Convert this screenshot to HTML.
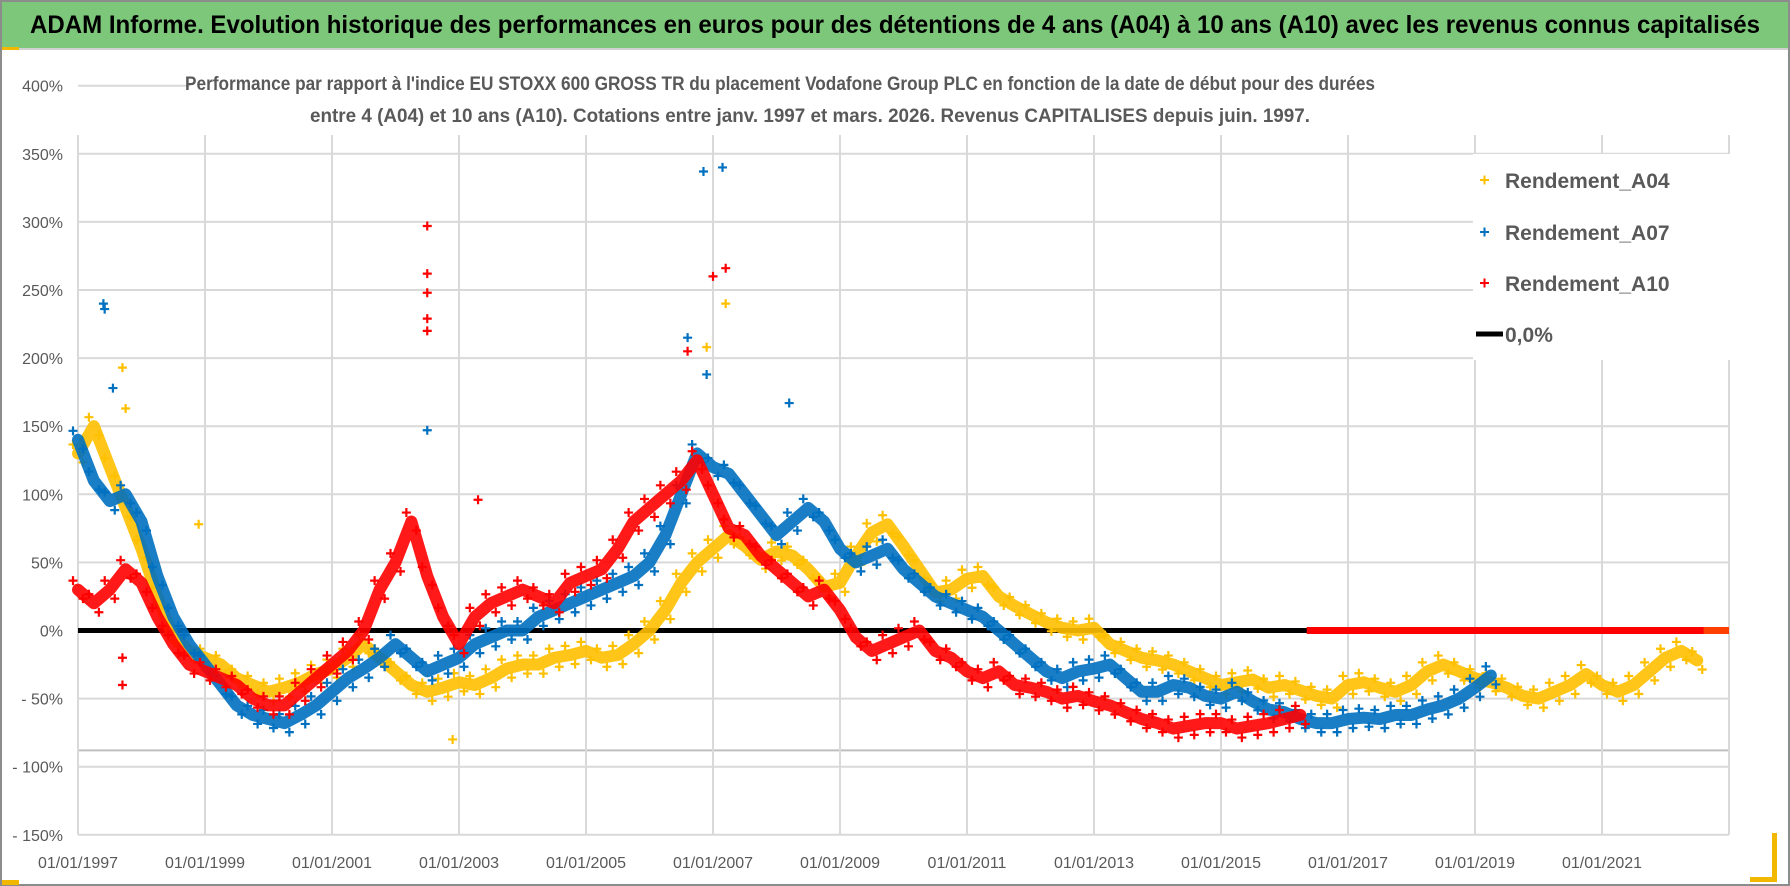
<!DOCTYPE html>
<html><head><meta charset="utf-8">
<style>
html,body{margin:0;padding:0;background:#fff;}
body{width:1790px;height:886px;overflow:hidden;font-family:"Liberation Sans",sans-serif;}
svg{display:block}
</style></head>
<body>
<svg id="chart" width="1790" height="886" viewBox="0 0 1790 886" xmlns="http://www.w3.org/2000/svg">
  <rect x="0" y="0" width="1790" height="886" fill="#fff"/>
  <rect x="1" y="1" width="1788" height="884" fill="none" stroke="#8c8c8c" stroke-width="2"/>
  <rect x="2" y="2" width="1786" height="46" fill="#7dc77a"/>
  <line x1="2" y1="49" x2="1788" y2="49" stroke="#d0d0d0" stroke-width="2"/>
  <rect x="2" y="47" width="17" height="3" fill="#f2b800"/>
  <rect x="2" y="880" width="17" height="5" fill="#f2b800"/>
  <rect x="1772" y="833" width="5" height="48" fill="#f2b800"/>
  <rect x="1750" y="877" width="27" height="5" fill="#f2b800"/>
  <text x="895" y="33" text-anchor="middle" font-size="25" font-weight="bold" fill="#000" textLength="1730" lengthAdjust="spacingAndGlyphs">ADAM Informe. Evolution historique des performances en euros pour des détentions de 4 ans (A04) à 10 ans (A10) avec les revenus connus capitalisés</text>
  <g id="grid"></g>
  <rect x="190" y="66" width="1550" height="66" fill="#fff"/>
  <text x="780" y="90" text-anchor="middle" font-size="19" font-weight="bold" fill="#595959" textLength="1190" lengthAdjust="spacingAndGlyphs">Performance par rapport à l'indice EU STOXX 600 GROSS TR  du placement Vodafone Group PLC en fonction de la date de début pour des durées</text>
  <text x="810" y="122" text-anchor="middle" font-size="19" font-weight="bold" fill="#595959" textLength="1000" lengthAdjust="spacingAndGlyphs">entre 4 (A04) et 10 ans (A10). Cotations entre janv. 1997 et mars. 2026. Revenus CAPITALISES depuis juin. 1997.</text>
  <g id="axes"></g>
  <g id="series"></g>
  <g id="legend">
    <rect x="1473" y="154" width="285" height="206" fill="#fff"/>
    <g>
      <path d="M1480 180h9M1484.5 175.5v9" stroke="#FFC000" stroke-width="2"/>
      <text x="1505" y="188" font-size="21" font-weight="bold" fill="#595959">Rendement_A04</text>
    </g>
    <g>
      <path d="M1480 232h9M1484.5 227.5v9" stroke="#0070C0" stroke-width="2"/>
      <text x="1505" y="240" font-size="21" font-weight="bold" fill="#595959">Rendement_A07</text>
    </g>
    <g>
      <path d="M1480 283h9M1484.5 278.5v9" stroke="#FF0000" stroke-width="2"/>
      <text x="1505" y="291" font-size="21" font-weight="bold" fill="#595959">Rendement_A10</text>
    </g>
    <g>
      <line x1="1476" y1="334" x2="1503" y2="334" stroke="#000" stroke-width="5"/>
      <text x="1505" y="342" font-size="21" font-weight="bold" fill="#595959">0,0%</text>
    </g>
  </g>
</svg>
<script>
const xTickYears = [1997,1999,2001,2003,2005,2007,2009,2011,2013,2015,2017,2019,2021];
const yTicks = [400,350,300,250,200,150,100,50,0,-50,-100,-150];
const yTickLabels = ["400%","350%","300%","250%","200%","150%","100%","50%","0%","- 50%","- 100%","- 150%"];
const extraLineValue = -88;
const a04Start = 1997.0, a07Start = 1997.0, a10Start = 1997.0, stepYears = 0.25;
const a04 = [130,150,120,90, 60,25,-5,-15, -20,-25,-35,-40, -45,-42,-38,-32, -28,-20,-10,-20, -30,-40,-45,-42, -38,-40,-35,-28, -25,-25,-20,-18, -15,-20,-18,-10, 0,15,35,50, 60,70,62,52, 58,55,45,32, 35,55,72,78, 62,45,28,30, 38,40,25,18, 12,6,2,0, 2,-10,-15,-20, -22,-25,-30,-35, -40,-38,-36,-42, -40,-44,-48,-50, -40,-38,-42,-45, -40,-30,-25,-30, -35,-38,-42,-48, -50,-45,-40,-32, -40,-45,-40,-30, -20,-15,-22];
const a07 = [140,110,95,100, 80,40,10,-10, -25,-40,-55,-62, -65,-68,-62,-55, -45,-35,-28,-20, -10,-20,-30,-25, -20,-10,-5,0, 0,10,15,20, 25,30,35,40, 50,70,100,130, 120,115,100,85, 70,80,90,80, 60,50,55,60, 45,35,25,20, 15,10,0,-10, -20,-30,-35,-30, -28,-25,-35,-45, -45,-40,-42,-48, -50,-45,-52,-58, -60,-65,-68,-68, -65,-64,-65,-62, -62,-58,-55,-50, -42,-33];
const a10 = [30,20,30,45, 35,10,-10,-25, -30,-35,-40,-50, -55,-55,-45,-35, -25,-15,0,30, 50,80,40,10, -10,10,20,25, 30,25,20,35, 40,45,60,80, 90,100,110,125, 100,75,70,55, 45,35,25,30, 15,-5,-15,-10, -5,0,-15,-20, -30,-35,-30,-40, -42,-45,-50,-48, -52,-55,-60,-65, -68,-72,-70,-68, -68,-72,-70,-68, -65,-62];
const a04OutYears = [1997.7,1997.75,1998.9,2002.9,2006.9,2007.2];
const a04OutVals  = [193,163,78,-80,208,240];
const a07OutYears = [1997.4,1997.42,1997.55,2002.5,2006.6,2006.85,2007.15,2006.9,2008.2];
const a07OutVals  = [240,236,178,147,215,337,340,188,167];
const a10OutYears = [2002.5,2002.5,2002.5,2002.5,2002.5,2007.0,2007.2,2006.6,1997.7,1997.7,2003.3];
const a10OutVals  = [297,262,248,229,220,260,266,205,-40,-20,96];
const a10ZeroFrom = 2016.35, a04ZeroFrom = 2022.6, axisEndYear = 2023;

const NS = "http://www.w3.org/2000/svg";
const X0 = 78, PX_PER_YEAR = 63.5, Y0 = 630.5, PX_PER_PCT = 68.1/50;
function xs(yr){ return X0 + (yr - 1997) * PX_PER_YEAR; }
function ys(v){ return Y0 - v * PX_PER_PCT; }
function mk(tag, attrs, parent){ const e=document.createElementNS(NS,tag); for(const k in attrs) e.setAttribute(k,attrs[k]); parent.appendChild(e); return e; }

const grid = document.getElementById('grid');
const axes = document.getElementById('axes');
const series = document.getElementById('series');
const xR = xs(axisEndYear);
for (let i=0;i<yTicks.length;i++){
  const y = ys(yTicks[i]);
  const gl = mk('line',{x1:X0,y1:y,x2:xR,y2:y,stroke:'#d9d9d9','stroke-width':2},grid);
  
  
  const t = mk('text',{x:63,y:y+6,'text-anchor':'end','font-size':16,fill:'#595959'},axes);
  t.textContent = yTickLabels[i];
  
  
}
const el = mk('line',{x1:X0,y1:ys(extraLineValue),x2:xR,y2:ys(extraLineValue),stroke:'#bfbfbf','stroke-width':2},grid);


for (const yr of xTickYears.concat([axisEndYear])){
  const x = xs(yr);
  const vl = mk('line',{x1:x,y1:135,x2:x,y2:ys(-150),stroke:'#d9d9d9','stroke-width':2},grid);
  
  
}
for (const yr of xTickYears){
  const t = mk('text',{x:xs(yr),y:868,'text-anchor':'middle','font-size':16,fill:'#595959'},axes);
  t.textContent = '01/01/' + yr;
  
  
}
const zl = mk('line',{x1:X0,y1:ys(0),x2:xR,y2:ys(0),stroke:'#000','stroke-width':5},series);



function plus(g,x,y,color,s){
  mk('path',{d:`M${x-s} ${y}h${2*s}M${x} ${y-s}v${2*s}`,stroke:color,'stroke-width':2.2},g);
}
function drawSeries(name,vals,start,color,outY,outV,zeroFrom){
  const g = mk('g',{},series);
  
  
  const pts = vals.map((v,i)=>[xs(start+i*stepYears),ys(v)]);
  const pl = mk('polyline',{points:pts.map(p=>p.join(',')).join(' '),fill:'none',stroke:color,'stroke-width':12,'stroke-linejoin':'round','stroke-linecap':'round',opacity:0.9},g);
  
  
  pts.forEach(p=>{ plus(g,p[0]-5,p[1]-9,color,4.5); plus(g,p[0]+5,p[1]+9,color,4.5); });
  outY.forEach((yr,i)=>plus(g,xs(yr),ys(outV[i]),color,4.5));
  if (zeroFrom!==null){
    const z = mk('line',{x1:xs(zeroFrom),y1:ys(0),x2:xR,y2:ys(0),stroke:color,'stroke-width':7},g);
    
    
  }
}
drawSeries('series-a04',a04,a04Start,'#FFC000',a04OutYears,a04OutVals,a04ZeroFrom);
drawSeries('series-a07',a07,a07Start,'#0070C0',a07OutYears,a07OutVals,null);
drawSeries('series-a10',a10,a10Start,'#FF0000',a10OutYears,a10OutVals,a10ZeroFrom);
const tail = mk('line',{x1:xs(a04ZeroFrom),y1:ys(0),x2:xR,y2:ys(0),stroke:'#FF4000','stroke-width':7},series);


</script>
</body></html>
